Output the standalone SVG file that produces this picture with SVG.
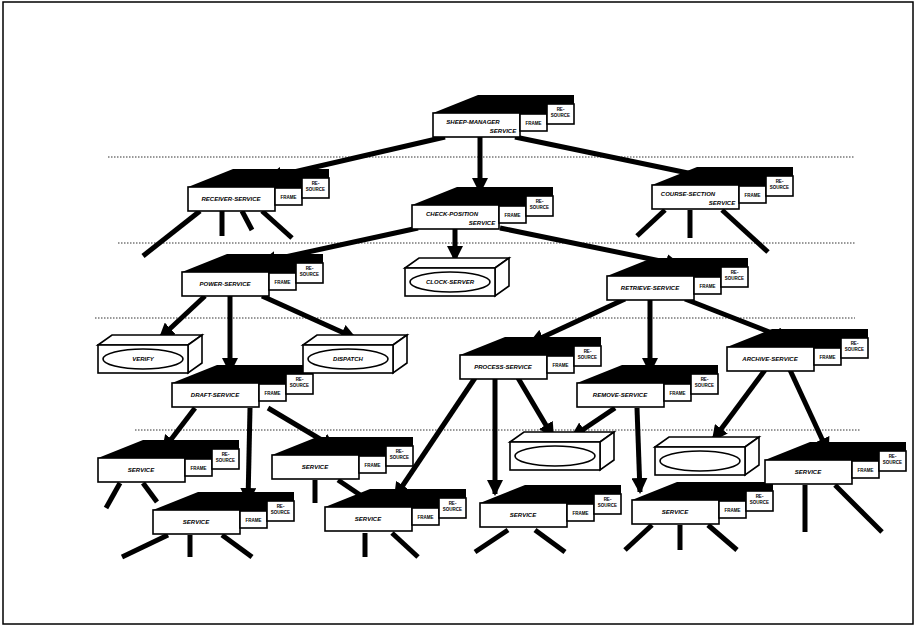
<svg xmlns="http://www.w3.org/2000/svg" xmlns:xlink="http://www.w3.org/1999/xlink" width="917" height="628" viewBox="0 0 917 628">
<style>
.bx{fill:#fff;stroke:#000;stroke-width:1.6}
.roof{fill:#000}
.t{font-family:"Liberation Sans",Arial,sans-serif;font-weight:bold;font-style:italic;font-size:6px;fill:#000}
.ts{font-family:"Liberation Sans",Arial,sans-serif;font-weight:bold;font-size:4.5px;fill:#000}
.dot{stroke:#333;stroke-width:1;stroke-dasharray:1.5 1.5;fill:none}
.c{stroke:#000;stroke-width:5;fill:none}
.a{stroke:#000;stroke-width:5;fill:none;marker-end:url(#ah)}
</style>
<defs>
<marker id="ah" markerUnits="userSpaceOnUse" markerWidth="18" markerHeight="16" refX="14" refY="8" orient="auto">
<path d="M0,0 L16,8 L0,16 Z" fill="#000"/>
</marker>
<g id="node">
<polygon class="roof" points="0,0 45,-18 141,-18 141,-9 115,-9 115,1 87,1 87,0"/>
<rect class="bx" x="0" y="0" width="87" height="24"/>
<rect class="bx" x="87" y="1" width="27" height="17"/>
<rect class="bx" x="114" y="-9" width="27" height="20"/>
<text class="ts" x="100.5" y="12" text-anchor="middle">FRAME</text>
<text class="ts" x="127.5" y="-2" text-anchor="middle">RE-</text>
<text class="ts" x="127.5" y="4" text-anchor="middle">SOURCE</text>
</g>
<g id="card">
<polygon class="bx" points="0,0 14,-10 104,-10 90,0"/>
<polygon class="bx" points="90,0 104,-10 104,18 90,28"/>
<rect class="bx" x="0" y="0" width="90" height="28"/>
<ellipse class="bx" cx="45" cy="14" rx="40" ry="10"/>
</g>
</defs>
<rect x="3" y="2" width="910" height="622" fill="#fff" stroke="#000" stroke-width="1.5"/>
<g id="guides">
<line class="dot" x1="108" y1="157" x2="855" y2="157"/>
<line class="dot" x1="118" y1="243" x2="855" y2="243"/>
<line class="dot" x1="95" y1="318" x2="855" y2="318"/>
<line class="dot" x1="135" y1="430" x2="860" y2="430"/>
</g>
<g id="connectors">
<line class="a" x1="445" y1="137" x2="268" y2="178"/>
<line class="a" x1="480" y1="137" x2="480" y2="192"/>
<line class="a" x1="515" y1="137" x2="712" y2="178"/>
<line class="a" x1="418" y1="228" x2="262" y2="262"/>
<line class="a" x1="455" y1="228" x2="455" y2="260"/>
<line class="a" x1="500" y1="228" x2="680" y2="265"/>
<line class="a" x1="205" y1="296" x2="160" y2="338"/>
<line class="a" x1="230" y1="296" x2="230" y2="372"/>
<line class="a" x1="262" y1="296" x2="355" y2="338"/>
<line class="a" x1="625" y1="299" x2="530" y2="343"/>
<line class="a" x1="650" y1="299" x2="650" y2="372"/>
<line class="a" x1="685" y1="299" x2="790" y2="340"/>
<line class="a" x1="195" y1="408" x2="163" y2="450"/>
<line class="a" x1="250" y1="408" x2="248" y2="502"/>
<line class="a" x1="268" y1="408" x2="335" y2="448"/>
<line class="a" x1="475" y1="378" x2="395" y2="497"/>
<line class="a" x1="495" y1="378" x2="495" y2="494"/>
<line class="a" x1="518" y1="378" x2="553" y2="437"/>
<line class="a" x1="615" y1="408" x2="572" y2="437"/>
<line class="a" x1="637" y1="408" x2="640" y2="492"/>
<line class="a" x1="765" y1="370" x2="713" y2="440"/>
<line class="a" x1="790" y1="370" x2="828" y2="452"/>
<line class="c" x1="200" y1="211" x2="143" y2="256"/>
<line class="c" x1="222" y1="211" x2="222" y2="236"/>
<line class="c" x1="242" y1="211" x2="252" y2="230"/>
<line class="c" x1="262" y1="211" x2="292" y2="238"/>
<line class="c" x1="665" y1="210" x2="637" y2="236"/>
<line class="c" x1="690" y1="210" x2="690" y2="238"/>
<line class="c" x1="722" y1="210" x2="768" y2="252"/>
<line class="c" x1="120" y1="483" x2="106" y2="508"/>
<line class="c" x1="143" y1="483" x2="157" y2="502"/>
<line class="c" x1="315" y1="480" x2="315" y2="503"/>
<line class="c" x1="338" y1="480" x2="372" y2="503"/>
<line class="c" x1="168" y1="535" x2="122" y2="557"/>
<line class="c" x1="190" y1="535" x2="190" y2="557"/>
<line class="c" x1="222" y1="535" x2="252" y2="557"/>
<line class="c" x1="365" y1="533" x2="365" y2="557"/>
<line class="c" x1="392" y1="533" x2="418" y2="557"/>
<line class="c" x1="508" y1="530" x2="475" y2="552"/>
<line class="c" x1="535" y1="530" x2="565" y2="552"/>
<line class="c" x1="652" y1="525" x2="625" y2="550"/>
<line class="c" x1="680" y1="525" x2="680" y2="550"/>
<line class="c" x1="708" y1="525" x2="737" y2="550"/>
<line class="c" x1="805" y1="485" x2="805" y2="532"/>
<line class="c" x1="835" y1="485" x2="882" y2="532"/>
</g>
<g id="n-top" transform="translate(433,113)"><use xlink:href="#node"/><text class="t" x="40" y="11" text-anchor="middle">SHEEP-MANAGER</text><text class="t" x="70" y="20" text-anchor="middle">SERVICE</text></g>
<g id="n-receiver" transform="translate(188,187)"><use xlink:href="#node"/><text class="t" x="43" y="14" text-anchor="middle">RECEIVER-SERVICE</text></g>
<g id="n-check" transform="translate(412,205)"><use xlink:href="#node"/><text class="t" x="40" y="11" text-anchor="middle">CHECK-POSITION</text><text class="t" x="70" y="20" text-anchor="middle">SERVICE</text></g>
<g id="n-course" transform="translate(652,185)"><use xlink:href="#node"/><text class="t" x="36" y="11" text-anchor="middle">COURSE-SECTION</text><text class="t" x="70" y="20" text-anchor="middle">SERVICE</text></g>
<g id="n-power" transform="translate(182,272)"><use xlink:href="#node"/><text class="t" x="43" y="14" text-anchor="middle">POWER-SERVICE</text></g>
<g id="n-retrieve" transform="translate(607,276)"><use xlink:href="#node"/><text class="t" x="43" y="14" text-anchor="middle">RETRIEVE-SERVICE</text></g>
<g id="n-draft" transform="translate(172,383)"><use xlink:href="#node"/><text class="t" x="43" y="14" text-anchor="middle">DRAFT-SERVICE</text></g>
<g id="n-process" transform="translate(460,355)"><use xlink:href="#node"/><text class="t" x="43" y="14" text-anchor="middle">PROCESS-SERVICE</text></g>
<g id="n-remove" transform="translate(577,383)"><use xlink:href="#node"/><text class="t" x="43" y="14" text-anchor="middle">REMOVE-SERVICE</text></g>
<g id="n-archive" transform="translate(727,347)"><use xlink:href="#node"/><text class="t" x="43" y="14" text-anchor="middle">ARCHIVE-SERVICE</text></g>
<g id="n-leaf1" transform="translate(98,458)"><use xlink:href="#node"/><text class="t" x="43" y="14" text-anchor="middle">SERVICE</text></g>
<g id="n-leaf2" transform="translate(272,455)"><use xlink:href="#node"/><text class="t" x="43" y="14" text-anchor="middle">SERVICE</text></g>
<g id="n-leaf3" transform="translate(153,510)"><use xlink:href="#node"/><text class="t" x="43" y="14" text-anchor="middle">SERVICE</text></g>
<g id="n-leaf4" transform="translate(325,507)"><use xlink:href="#node"/><text class="t" x="43" y="14" text-anchor="middle">SERVICE</text></g>
<g id="n-leaf5" transform="translate(480,503)"><use xlink:href="#node"/><text class="t" x="43" y="14" text-anchor="middle">SERVICE</text></g>
<g id="n-leaf6" transform="translate(632,500)"><use xlink:href="#node"/><text class="t" x="43" y="14" text-anchor="middle">SERVICE</text></g>
<g id="n-leaf7" transform="translate(765,460)"><use xlink:href="#node"/><text class="t" x="43" y="14" text-anchor="middle">SERVICE</text></g>
<g id="c-clock" transform="translate(405,268)"><use xlink:href="#card"/><text class="t" x="45" y="16" text-anchor="middle">CLOCK-SERVER</text></g>
<g id="c-verify" transform="translate(98,345)"><use xlink:href="#card"/><text class="t" x="45" y="16" text-anchor="middle">VERIFY</text></g>
<g id="c-dispatch" transform="translate(303,345)"><use xlink:href="#card"/><text class="t" x="45" y="16" text-anchor="middle">DISPATCH</text></g>
<g id="c-empty1" transform="translate(510,442)"><use xlink:href="#card"/></g>
<g id="c-empty2" transform="translate(655,447)"><use xlink:href="#card"/></g>
</svg>
